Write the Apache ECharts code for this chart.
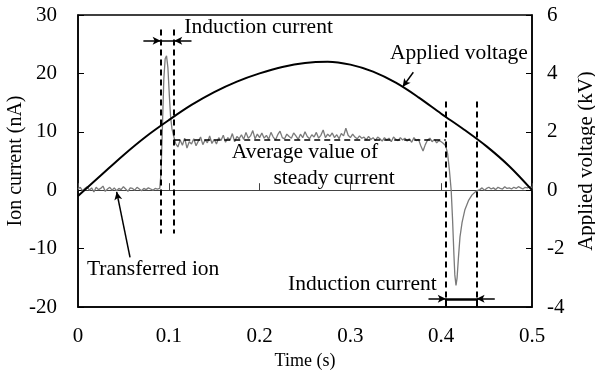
<!DOCTYPE html>
<html>
<head>
<meta charset="utf-8">
<script src="https://cdn.jsdelivr.net/npm/echarts@6/dist/echarts.min.js"></script>
<style>
  html, body { margin: 0; padding: 0; background: #fff; }
  #chart { width: 595px; height: 370px; }
</style>
</head>
<body>
<div id="chart"></div>
<script>
const FONT = '"Liberation Serif", "Times New Roman", serif';

// Time axis ticks (s)
const timeMin = 0, timeMax = 0.5, timeStep = 0.1;
// Ion current axis (nA) and applied voltage axis (kV)
const currentMin = -20, currentMax = 30, currentStep = 10;
const voltageMin = -4, voltageMax = 6, voltageStep = 2;

// Applied voltage (kV)
const voltageTimes = [0, 0.025, 0.05, 0.075, 0.1, 0.125, 0.15, 0.175, 0.2, 0.225, 0.25,
  0.275, 0.3, 0.325, 0.35, 0.375, 0.4, 0.425, 0.45, 0.475, 0.5];
const voltageKV = [-0.20, 0.50, 1.20, 1.84, 2.40, 2.92, 3.36, 3.72, 4.00, 4.22, 4.36,
  4.40, 4.30, 4.06, 3.68, 3.18, 2.62, 2.08, 1.50, 0.82, 0.00];

// Ion current (nA), recorded every 2.5 ms on the quiet stretches
const sampleStep = 0.0025;
const baselineStart = 0;
const baselineCurrent = [0.2, 0.5, -0.1, 0.3, 0.6, 0.0, 0.4, -0.3, 0.5, 0.1,
  0.3, 0.7, -0.2, 0.2, 0.5, 0.0, 0.4, -0.1, 0.3, 0.1,
  0.6, 0.2, -0.2, 0.4, 0.3, 0.0, 0.5, 0.2, -0.1, 0.3,
  0.1, 0.4, 0.2, 0.0, 0.3, 0.2];
// Induction pulse when the voltage switches on
const risePulse = [[0.0900, 0.3], [0.0915, 3.0], [0.0930, 11.0], [0.0945, 19.0], [0.0960, 22.5],
  [0.0975, 23.0], [0.0990, 21.0], [0.1005, 16.5], [0.1020, 12.5], [0.1035, 10.5], [0.1050, 9.5]];
const plateauStart = 0.1075;
const plateauCurrent = [8.0, 7.4, 8.6, 7.7, 8.9, 7.2, 8.3, 7.9, 8.8, 7.6,
  8.4, 9.1, 7.8, 8.6, 8.1, 9.3, 8.0, 8.7, 7.9, 9.0,
  8.5, 9.4, 8.2, 9.0, 8.6, 9.7, 8.3, 9.2, 8.8, 9.5,
  8.7, 9.9, 8.9, 9.3, 10.2, 8.8, 9.6, 9.0, 9.8, 8.9,
  9.4, 8.7, 9.9, 9.1, 8.6, 9.5, 10.1, 9.0, 8.8, 9.6,
  9.2, 8.9, 9.8, 9.3, 8.7, 9.6, 9.0, 10.0, 9.2, 8.8,
  9.5, 9.1, 9.9, 8.9, 9.4, 10.3, 9.0, 9.6, 9.2, 9.8,
  9.0, 9.5, 8.8, 9.7, 9.3, 10.6, 9.4, 9.0, 9.6, 9.1,
  8.8, 9.3, 8.9, 9.1, 8.6, 9.2, 8.7, 9.0, 8.5, 9.1,
  8.8, 8.4, 9.0, 8.6, 8.9, 8.3, 9.1, 8.7, 8.5, 9.0,
  8.6, 8.9, 8.4, 8.8, 8.2, 9.0, 8.5, 8.7, 7.6, 6.7,
  7.8, 8.6, 8.9, 8.3, 8.7, 8.1, 8.5, 8.3, 8.0];
// Induction pulse when the voltage switches off
const fallPulse = [[0.4050, 7.6], [0.4070, 6.3], [0.4090, 3.5], [0.4110, 0.0], [0.4125, -5.0],
  [0.4140, -11.0], [0.4150, -14.5], [0.4163, -16.3], [0.4175, -15.0], [0.4190, -11.5],
  [0.4207, -8.0], [0.4230, -5.5], [0.4260, -3.4], [0.4300, -1.8], [0.4340, -0.8], [0.4390, -0.1]];
const tailStart = 0.4425;
const tailCurrent = [0.1, 0.4, 0.0, 0.3, 0.5, 0.2, 0.4, 0.1, 0.5, 0.3,
  0.2, 0.6, 0.3, 0.4, 0.2, 0.5, 0.3, 0.6, 0.4, 0.2,
  0.5, 0.4, 0.6, 0.5];

// Average of the steady current between the two induction windows (nA)
const steadyAverage = 8.6;
// Induction windows (s)
const onWindow = [0.091, 0.106];
const offWindow = [0.405, 0.439];

function sampled(start, values) {
  return values.map((v, i) => [+(start + i * sampleStep).toFixed(4), v]);
}
const currentData = [].concat(
  sampled(baselineStart, baselineCurrent),
  risePulse,
  sampled(plateauStart, plateauCurrent),
  fallPulse,
  sampled(tailStart, tailCurrent)
);
const voltageData = voltageTimes.map((t, i) => [t, voltageKV[i]]);

const black = '#000';
const dashed = { color: black, width: 2, type: [6, 4] };
const solid = { color: black, width: 1.5, type: 'solid' };
const thick = { color: black, width: 2.5, type: 'solid' };
const arrowHead = [6, 8];

function seg(a, b, style, arrow) {
  return [
    { coord: a, symbol: 'none', lineStyle: style },
    { coord: b, symbol: arrow ? 'arrow' : 'none', symbolSize: arrowHead, lineStyle: style }
  ];
}

const guides = [
  // window markers
  seg([onWindow[0], 27.5], [onWindow[0], -7.4], dashed),
  seg([onWindow[1], 27.5], [onWindow[1], -7.4], dashed),
  seg([offWindow[0], 15.2], [offWindow[0], -20], dashed),
  seg([offWindow[1], 15.2], [offWindow[1], -20], dashed),
  seg([offWindow[0], -18.6], [offWindow[0], -20], { color: black, width: 2, type: 'solid' }),
  seg([offWindow[1], -18.6], [offWindow[1], -20], { color: black, width: 2, type: 'solid' }),
  // steady current average
  seg([onWindow[1], steadyAverage], [offWindow[0], steadyAverage], { color: black, width: 1.5, type: [6, 4] }),
  // window width brackets
  seg([0.072, 25.6], [onWindow[0], 25.6], solid, true),
  seg([0.125, 25.6], [onWindow[1], 25.6], solid, true),
  seg([onWindow[0], 25.6], [onWindow[1], 25.6], solid),
  seg([0.386, -18.6], [offWindow[0], -18.6], solid, true),
  seg([0.459, -18.6], [offWindow[1], -18.6], solid, true),
  seg([offWindow[0], -18.6], [offWindow[1], -18.6], thick),
  // label pointers
  seg([0.3693, 20.2], [0.3576, 17.7], solid, true),
  seg([0.0573, -11.5], [0.0426, -0.3], solid, true)
];

// Annotation anchors in data coordinates (time, nA)
const notes = [
  { text: 'Induction current', at: [0.117, 27.8], align: 'left' },
  { text: 'Applied voltage', at: [0.3436, 23.4], align: 'left' },
  { text: 'Average value of', at: [0.1693, 6.45], align: 'left' },
  { text: 'steady current', at: [0.2153, 2.0], align: 'left' },
  { text: 'Transferred ion', at: [0.0099, -13.5], align: 'left' },
  { text: 'Induction current', at: [0.395, -16.15], align: 'right' }
];

const tickFont = { fontFamily: FONT, fontSize: 21, color: black };

const chart = echarts.init(document.getElementById('chart'), null, { renderer: 'canvas' });
chart.setOption({
  animation: false,
  backgroundColor: '#fff',
  grid: {
    left: 78, right: 63, top: 15, bottom: 63,
    show: true, borderColor: black, borderWidth: 1.5,
    containLabel: false, outerBoundsMode: 'none'
  },
  xAxis: [
    {
      type: 'value', min: timeMin, max: timeMax, interval: timeStep, position: 'bottom',
      axisLine: { show: true, onZero: false, lineStyle: { color: black, width: 1.5 } },
      axisTick: { show: false },
      splitLine: { show: false },
      axisLabel: Object.assign({ margin: 19 }, tickFont),
      name: 'Time (s)', nameLocation: 'middle', nameGap: 45, nameMoveOverlap: false,
      nameTextStyle: { fontFamily: FONT, fontSize: 18, color: black }
    },
    {
      type: 'value', min: timeMin, max: timeMax, interval: timeStep, position: 'bottom',
      axisLine: { show: true, onZero: true, onZeroAxisIndex: 0, lineStyle: { color: '#444', width: 1 } },
      axisTick: { show: true, inside: true, length: 7, lineStyle: { color: '#444', width: 1 } },
      axisLabel: { show: false },
      splitLine: { show: false }
    }
  ],
  yAxis: [
    {
      type: 'value', min: currentMin, max: currentMax, interval: currentStep, position: 'left',
      axisLine: { show: true, onZero: false, lineStyle: { color: black, width: 1.5 } },
      axisTick: { show: true, inside: true, length: 6, lineStyle: { color: black, width: 1 } },
      splitLine: { show: false },
      axisLabel: Object.assign({ margin: 21 }, tickFont),
      name: 'Ion current (nA)', nameLocation: 'middle', nameGap: 52, nameMoveOverlap: false,
      nameTextStyle: { fontFamily: FONT, fontSize: 20, color: black }
    },
    {
      type: 'value', min: voltageMin, max: voltageMax, interval: voltageStep, position: 'right',
      axisLine: { show: true, onZero: false, lineStyle: { color: black, width: 1.5 } },
      axisTick: { show: true, inside: true, length: 6, lineStyle: { color: black, width: 1 } },
      splitLine: { show: false },
      axisLabel: Object.assign({ margin: 15 }, tickFont),
      name: 'Applied voltage (kV)', nameLocation: 'middle', nameGap: 44, nameMoveOverlap: false,
      nameTextStyle: { fontFamily: FONT, fontSize: 21, color: black }
    }
  ],
  series: [
    {
      name: 'Ion current', type: 'line', xAxisIndex: 0, yAxisIndex: 0,
      data: currentData, showSymbol: false, symbol: 'none',
      lineStyle: { color: '#7a7a7a', width: 1.3 }, z: 2,
      markLine: {
        silent: true, symbol: 'none', label: { show: false },
        emphasis: { disabled: true }, animation: false,
        data: guides
      }
    },
    {
      name: 'Applied voltage', type: 'line', xAxisIndex: 0, yAxisIndex: 1,
      data: voltageData, smooth: 0.35, showSymbol: false, symbol: 'none',
      lineStyle: { color: black, width: 2 }, z: 3
    }
  ]
});

chart.setOption({
  graphic: notes.map(n => {
    const p = chart.convertToPixel({ xAxisIndex: 0, yAxisIndex: 0 }, n.at);
    return {
      type: 'text', silent: true, z: 10,
      style: {
        text: n.text, x: p[0], y: p[1],
        fontFamily: FONT, fontSize: 21.5, fill: black,
        align: n.align, verticalAlign: 'middle'
      }
    };
  })
});
</script>
</body>
</html>
